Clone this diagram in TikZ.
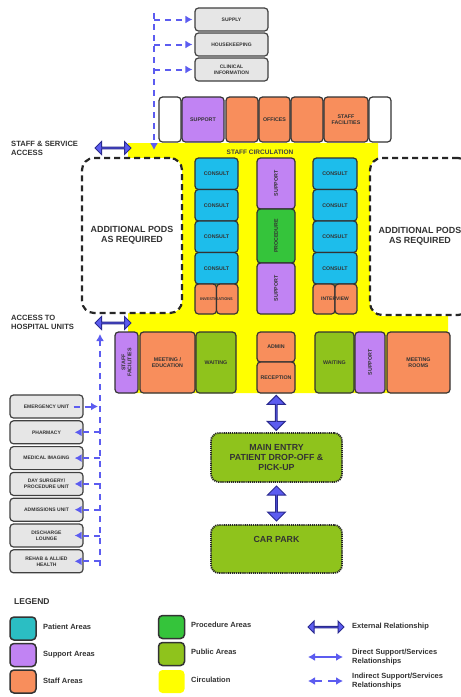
\documentclass[tikz,border=0pt]{standalone}
\usepackage{fontspec}
\setmainfont{Liberation Sans}
\usetikzlibrary{shapes.arrows, arrows.meta}
\definecolor{patient}{HTML}{1DBDEB}
\definecolor{patientlg}{HTML}{2BBEC3}
\definecolor{support}{HTML}{C183F3}
\definecolor{staff}{HTML}{F88E5C}
\definecolor{proc}{HTML}{35C43B}
\definecolor{public}{HTML}{8FC31C}
\definecolor{circ}{HTML}{FFFF00}
\definecolor{arrowblue}{HTML}{5C5CF0}
\definecolor{arrowedge}{HTML}{2A2A90}
\definecolor{greybox}{HTML}{E6E6E6}
\definecolor{edge}{HTML}{333333}
\tikzset{
  area/.style={draw=edge, line width=1.2pt, rounded corners=3.5pt, inner sep=0pt, align=center, font=\bfseries\fontsize{5.3}{6}\selectfont, text=black!80},
  pat/.style={area, fill=patient},
  sup/.style={area, fill=support},
  stf/.style={area, fill=staff},
  prc/.style={area, fill=proc},
  pub/.style={area, fill=public},
  blank/.style={area, fill=white},
  svc/.style={area, fill=greybox, draw=black!75, minimum width=73pt, minimum height=23pt, font=\bfseries\fontsize{5}{6}\selectfont},
  pods/.style={draw=black!85, line width=2.2pt, dash pattern=on 6pt off 4pt, rounded corners=12pt, fill=white, inner sep=0pt, align=center, font=\bfseries\fontsize{8.9}{10.5}\selectfont, text=black!80},
  extarrow/.style={double arrow, draw=arrowedge, fill=arrowblue, line width=1pt, inner sep=0pt, double arrow head extend=3.5pt},
  indirect/.style={draw=arrowblue, line width=2pt, dash pattern=on 6pt off 5pt, -{Latex[length=7pt,width=8pt]}},
  direct/.style={draw=arrowblue, line width=2pt, {Latex[length=7pt,width=8pt]}-{Latex[length=7pt,width=8pt]}},
  entry/.style={draw=black!85, fill=public, line width=1.8pt, dash pattern=on 1.2pt off 0.9pt, rounded corners=8pt, inner sep=0pt, align=center, font=\bfseries\fontsize{8.8}{10}\selectfont, text=black!80},
  entrytxt/.style={inner sep=0pt, font=\bfseries\fontsize{8.8}{10}\selectfont, text=black!80},
  sidelab/.style={font=\bfseries\fontsize{7.6}{9}\selectfont, align=left, anchor=north west, inner sep=0pt, text=black!80},
  lgbox/.style={draw=edge, line width=1.5pt, rounded corners=4pt, minimum width=26pt, minimum height=23pt, inner sep=0pt},
  lgtext/.style={font=\bfseries\fontsize{7.5}{9.5}\selectfont, align=left, anchor=west, inner sep=0pt, text=black!80}
}
\begin{document}
\begin{tikzpicture}[x=1pt,y=-1pt]
\useasboundingbox (0,0) rectangle (461,697);
\fill[white] (0,0) rectangle (461,697);

% circulation
\fill[circ] (128,143) -- (378,143) -- (378,316) -- (448,316) -- (448,393) -- (128,393) -- cycle;

% pods
\node[pods, minimum width=100pt, minimum height=155pt] (podL) at (132,235.5) {ADDITIONAL PODS\\AS REQUIRED};
\node[pods, minimum width=100pt, minimum height=157pt] (podR) at (420,236.5) {ADDITIONAL PODS\\AS REQUIRED};

% top service boxes
\node[svc] (supply) at (231.5,19.5) {SUPPLY};
\node[svc] (house) at (231.5,44.5) {HOUSEKEEPING};
\node[svc] (clin) at (231.5,69.5) {CLINICAL\\INFORMATION};

% top row
\node[blank, minimum width=22pt, minimum height=45pt] (tw1) at (170,119.5) {};
\node[sup, minimum width=42pt, minimum height=45pt] (tsup) at (203,119.5) {SUPPORT};
\node[stf, minimum width=32pt, minimum height=45pt] (to1) at (242,119.5) {};
\node[stf, minimum width=31pt, minimum height=45pt] (toff) at (274.5,119.5) {OFFICES};
\node[stf, minimum width=32pt, minimum height=45pt] (to3) at (307,119.5) {};
\node[stf, minimum width=44pt, minimum height=45pt] (tsf) at (346,119.5) {STAFF\\FACILITIES};
\node[blank, minimum width=22pt, minimum height=45pt] (tw2) at (380,119.5) {};

\node[inner sep=0pt, font=\bfseries\fontsize{6.5}{7}\selectfont, text=black!75] (sclab) at (260,152) {STAFF CIRCULATION};

% left consult column
\node[pat, minimum width=43pt, minimum height=31.5pt] (cl1) at (216.5,173.75) {CONSULT};
\node[pat, minimum width=43pt, minimum height=31.5pt] (cl2) at (216.5,205.25) {CONSULT};
\node[pat, minimum width=43pt, minimum height=31.5pt] (cl3) at (216.5,236.75) {CONSULT};
\node[pat, minimum width=43pt, minimum height=31.5pt] (cl4) at (216.5,268.25) {CONSULT};
\node[stf, minimum width=21.5pt, minimum height=30pt] (inv1) at (205.75,299) {};
\node[stf, minimum width=21.5pt, minimum height=30pt] (inv2) at (227.25,299) {};
\node[inner sep=0pt, font=\bfseries\fontsize{3.9}{4}\selectfont, text=black!80] (invlab) at (216.5,299) {INVESTIGATIONS};

% centre column
\node[sup, rotate=90, minimum width=51pt, minimum height=38pt] (cs1) at (276,183.5) {SUPPORT};
\node[prc, rotate=90, minimum width=54pt, minimum height=38pt] (cproc) at (276,236) {PROCEDURE};
\node[sup, rotate=90, minimum width=51pt, minimum height=38pt] (cs2) at (276,288.5) {SUPPORT};

% right consult column
\node[pat, minimum width=44pt, minimum height=31.5pt] (cr1) at (335,173.75) {CONSULT};
\node[pat, minimum width=44pt, minimum height=31.5pt] (cr2) at (335,205.25) {CONSULT};
\node[pat, minimum width=44pt, minimum height=31.5pt] (cr3) at (335,236.75) {CONSULT};
\node[pat, minimum width=44pt, minimum height=31.5pt] (cr4) at (335,268.25) {CONSULT};
\node[stf, minimum width=22pt, minimum height=30pt] (int1) at (324,299) {};
\node[stf, minimum width=22pt, minimum height=30pt] (int2) at (346,299) {};
\node[inner sep=0pt, font=\bfseries\fontsize{5}{5}\selectfont, text=black!80] (intlab) at (335,299) {INTERVIEW};

% bottom row
\node[sup, rotate=90, minimum width=61pt, minimum height=23pt] (bsf) at (126.5,362.5) {STAFF\\FACILITIES};
\node[stf, minimum width=55pt, minimum height=61pt] (meet) at (167.5,362.5) {MEETING /\\EDUCATION};
\node[pub, minimum width=40pt, minimum height=61pt] (wait1) at (216,362.5) {WAITING};
\node[stf, minimum width=38pt, minimum height=30pt] (admin) at (276,347) {ADMIN};
\node[stf, minimum width=38pt, minimum height=31pt] (recep) at (276,377.5) {RECEPTION};
\node[pub, minimum width=39pt, minimum height=61pt] (wait2) at (334.5,362.5) {WAITING};
\node[sup, rotate=90, minimum width=61pt, minimum height=30pt] (bsup) at (370,362.5) {SUPPORT};
\node[stf, minimum width=63pt, minimum height=61pt] (mroom) at (418.5,362.5) {MEETING\\ROOMS};

% side access arrows and labels
\node[extarrow, minimum height=36pt, minimum width=13pt] (acc1) at (113,148) {};
\node[extarrow, minimum height=36pt, minimum width=13pt] (acc2) at (113,323) {};
\node[sidelab] (acc1lab) at (11,141) {STAFF \& SERVICE\\ACCESS};
\node[sidelab] (acc2lab) at (11,315) {ACCESS TO\\HOSPITAL UNITS};

% main entry and car park
\node[entry, minimum width=131pt, minimum height=49pt] (main) at (276.5,457.5) {MAIN ENTRY\\PATIENT DROP-OFF \&\\PICK-UP};
\node[entry, minimum width=131pt, minimum height=48pt] (car) at (276.5,549) {};
\node[entrytxt] (cartxt) at (276.5,539) {CAR PARK};
\path (recep.south) -- node[extarrow, shape border rotate=90, minimum height=35pt, minimum width=18pt, double arrow head extend=5pt] (ea1) {} (main.north);
\path (main.south) -- node[extarrow, shape border rotate=90, minimum height=35pt, minimum width=18pt, double arrow head extend=5pt] (ea2) {} (car.north);

% top indirect links
\coordinate (tsp) at (154,13);
\coordinate (tspb) at (154,150);
\draw[indirect] (tsp) -- (tspb);
\draw[indirect, shorten >=2pt] (supply.west -| tsp) -- (supply.west);
\draw[indirect, shorten >=2pt] (house.west -| tsp) -- (house.west);
\draw[indirect, shorten >=2pt] (clin.west -| tsp) -- (clin.west);

% left service boxes
\node[svc] (emerg) at (46.5,406.5) {EMERGENCY UNIT};
\node[svc] (pharm) at (46.5,432.3) {PHARMACY};
\node[svc] (medim) at (46.5,458.1) {MEDICAL IMAGING};
\node[svc] (daysurg) at (46.5,483.9) {DAY SURGERY/\\PROCEDURE UNIT};
\node[svc] (admis) at (46.5,509.7) {ADMISSIONS UNIT};
\node[svc] (disch) at (46.5,535.5) {DISCHARGE\\LOUNGE};
\node[svc] (rehab) at (46.5,561.3) {REHAB \& ALLIED\\HEALTH};

\coordinate (bsp) at (100,566);
\coordinate (bspt) at (100,334);
\draw[indirect] (bsp) -- (bspt);
\draw[indirect, shorten >=2pt] ([xshift=-10pt]emerg.east) -- (emerg.east -| bsp);
\draw[indirect] (pharm.east -| bsp) -- ([xshift=-9pt]pharm.east);
\draw[indirect] (medim.east -| bsp) -- ([xshift=-9pt]medim.east);
\draw[indirect] (daysurg.east -| bsp) -- ([xshift=-9pt]daysurg.east);
\draw[indirect] (admis.east -| bsp) -- ([xshift=-9pt]admis.east);
\draw[indirect] (disch.east -| bsp) -- ([xshift=-9pt]disch.east);
\draw[indirect] (rehab.east -| bsp) -- ([xshift=-9pt]rehab.east);

% legend
\node[font=\bfseries\fontsize{8.5}{9}\selectfont, text=black!80, anchor=west, inner sep=0pt] (leg) at (14,602) {LEGEND};
\node[lgbox, fill=patientlg] (lg1) at (23,628.5) {};
\node[lgbox, fill=support] (lg2) at (23,655) {};
\node[lgbox, fill=staff] (lg3) at (23,681.5) {};
\node[lgbox, fill=proc] (lg4) at (171.5,627) {};
\node[lgbox, fill=public] (lg5) at (171.5,654) {};
\node[lgbox, fill=circ, draw=none] (lg6) at (171.5,681.5) {};
\node[lgtext] (lt1) at (43,627) {Patient Areas};
\node[lgtext] (lt2) at (43,655) {Support Areas};
\node[lgtext] (lt3) at (43,681) {Staff Areas};
\node[lgtext] (lt4) at (191,625) {Procedure Areas};
\node[lgtext] (lt5) at (191,652) {Public Areas};
\node[lgtext] (lt6) at (191,680) {Circulation};
\node[extarrow, minimum height=36pt, minimum width=12pt, double arrow head extend=3.5pt] (lg7) at (326,627) {};
\coordinate (d1) at (308,657);
\coordinate (d2) at (343,657);
\draw[direct] (d1) -- (d2);
\coordinate (i1) at (308,681);
\coordinate (i2) at (343,681);
\draw[direct, dash pattern=on 8pt off 6pt] (i1) -- (i2);
\node[lgtext] (lt7) at (352,627) {External Relationship};
\node[lgtext] (lt8) at (352,657) {Direct Support/Services\\Relationships};
\node[lgtext] (lt9) at (352,681) {Indirect Support/Services\\Relationships};
\end{tikzpicture}
\end{document}
